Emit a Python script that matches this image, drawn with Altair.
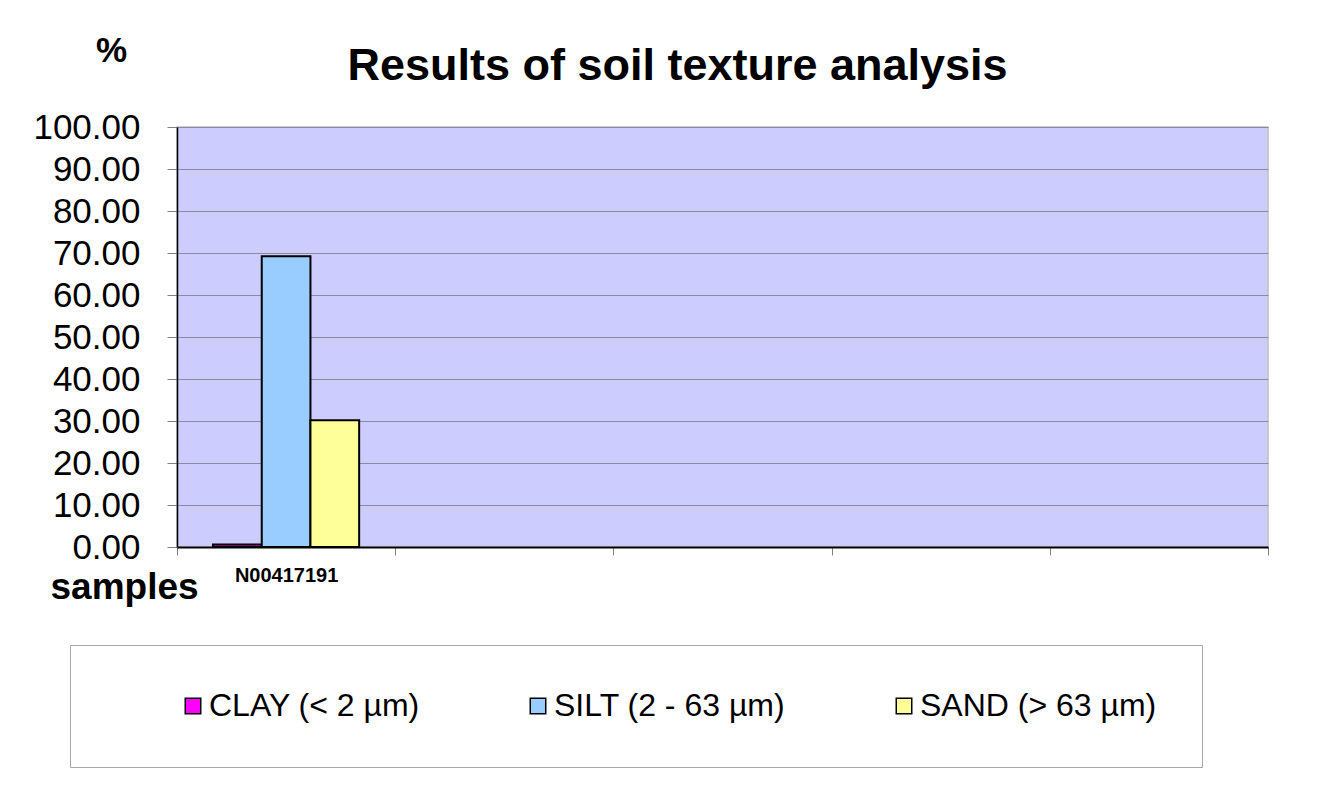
import altair as alt
import pandas as pd

# ---- data ----
slots = ["N00417191", " ", "  ", "   ", "    "]          # x categories (4 empty slots)
samples = ["N00417191", "N00417191", "N00417191"]
fractions = ["CLAY (< 2 µm)", "SILT (2 - 63 µm)", "SAND (> 63 µm)"]
percent = [0.6, 69.2, 30.2]
colors = ["#FF00FF", "#99CCFF", "#FFFF99"]
y_ticks = [0, 10, 20, 30, 40, 50, 60, 70, 80, 90, 100]

df = pd.DataFrame({"sample": samples, "fraction": fractions, "percent": percent})

FONT = "Liberation Sans"
PAD = "\u2003\u2003"   # invisible trailing room so the legend frame reaches the right edge

chart = alt.Chart(df).mark_bar(stroke="black", strokeWidth=2).encode(
    x=alt.X(
        "sample:N",
        scale=alt.Scale(domain=slots, paddingInner=0, paddingOuter=0),
        axis=alt.Axis(
            title="samples", titleFont=FONT, titleFontSize=37, titleFontWeight="bold",
            titleAngle=0, titleAlign="left", titleBaseline="alphabetic",
            titleX=-127, titleY=51, titleColor="black",
            labelAngle=0, labelFont=FONT, labelFontSize=20, labelFontWeight="bold",
            labelColor="black", labelPadding=10,
            tickBand="extent", tickColor="#808080", tickSize=8, tickWidth=1,
            domainColor="black", domainWidth=2, grid=False,
        ),
    ),
    xOffset=alt.XOffset(
        "fraction:N",
        scale=alt.Scale(domain=fractions, paddingOuter=0.74, paddingInner=0),
    ),
    y=alt.Y(
        "percent:Q",
        scale=alt.Scale(domain=[0, 100], nice=False),
        axis=alt.Axis(
            values=y_ticks, format=".2f",
            title="%", titleFont=FONT, titleFontSize=35, titleFontWeight="bold",
            titleAngle=0, titleAlign="center", titleBaseline="alphabetic",
            titleX=-66, titleY=-66, titleColor="black",
            labelFont=FONT, labelFontSize=35, labelColor="black", labelPadding=27,
            tickColor="#808080", tickSize=10, tickWidth=1,
            domainColor="black", domainWidth=1.5,
            grid=True, gridColor="#8a8aa2", gridWidth=1,
        ),
    ),
    color=alt.Color(
        "fraction:N",
        scale=alt.Scale(domain=fractions, range=colors),
        legend=alt.Legend(
            title=" ", titleOrient="left", titleFontSize=1, titlePadding=62,
            orient="none", legendX=-107, legendY=518, direction="horizontal",
            padding=45, strokeColor="#a8a8a8", fillColor="white",
            symbolType="square", symbolSize=240, symbolStrokeColor="black",
            symbolStrokeWidth=1.5, symbolOpacity=1,
            labelFont=FONT, labelFontSize=32, labelColor="black", labelOffset=0,
            labelLimit=0, columnPadding=102,
            labelExpr=f"indexof(datum.label, 'SAND') == 0 ? datum.label + '{PAD}' : datum.label",
        ),
    ),
).properties(
    width=1091,
    height=420,
    title=alt.TitleParams(
        "Results of soil texture analysis",
        font=FONT, fontSize=45, fontWeight="bold", color="black",
        anchor="middle", dx=-45, dy=36, offset=-20,
    ),
    padding={"left": 169, "top": 119, "right": 40, "bottom": 250},
    autosize="none",
).configure_view(fill="#CCCCFF", stroke="#c0c0c0", strokeWidth=1.5)

chart.save("out.html", embed_options={"renderer": "svg", "actions": False})
